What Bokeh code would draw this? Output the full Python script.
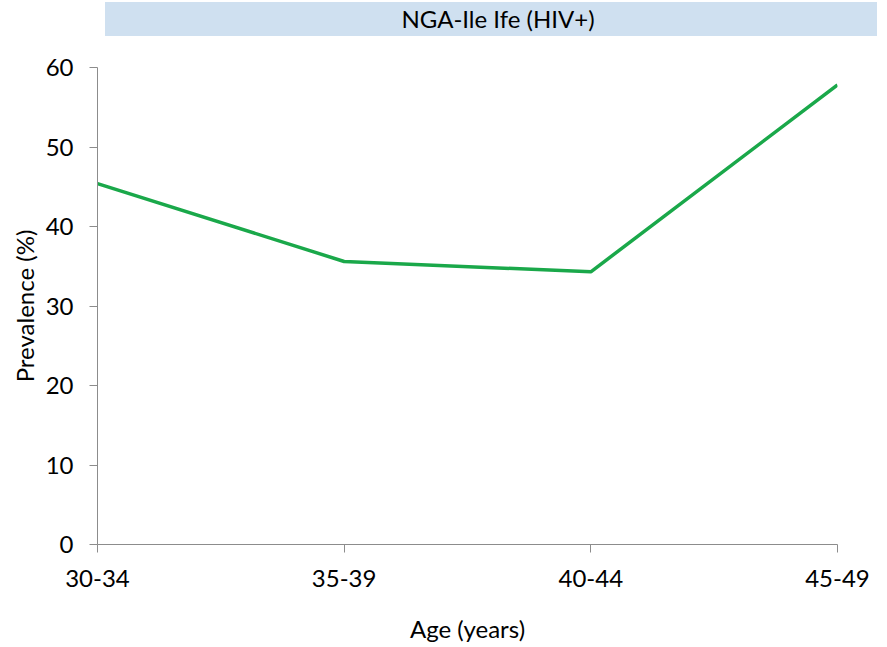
from bokeh.plotting import figure
from bokeh.models import Range1d, FixedTicker, Div
from bokeh.layouts import column
from bokeh.embed import file_html
from bokeh.resources import INLINE

categories = ["30-34", "35-39", "40-44", "45-49"]
prevalence = [45.4, 35.6, 34.3, 57.8]
y_ticks = [0, 10, 20, 30, 40, 50, 60]
title_text = "NGA-Ile Ife (HIV+)"

FONT = "Lato"
x_idx = list(range(len(categories)))

header = Div(text=title_text, width=772, height=34, margin=(2, 0, 0, 105),
             styles={"background-color": "#cfe0f0", "text-align": "center",
                     "font-family": FONT, "font-size": "24px", "line-height": "34px",
                     "color": "#000000", "width": "772px", "height": "34px",
                     "padding-left": "14px", "box-sizing": "border-box"})

p = figure(width=879, height=609, output_backend="svg", toolbar_location=None,
           x_range=Range1d(0, len(categories) - 1), y_range=Range1d(0, 60),
           min_border_left=97, min_border_right=42, min_border_top=31, min_border_bottom=100,
           margin=(0, 0, 0, 0))
p.outline_line_color = None
p.grid.visible = False

p.line(x_idx, prevalence, line_color="#1aa84a", line_width=3.5)

p.xaxis.ticker = FixedTicker(ticks=x_idx)
p.xaxis.major_label_overrides = {i: c for i, c in enumerate(categories)}
p.yaxis.ticker = FixedTicker(ticks=y_ticks)

for ax in (p.xaxis, p.yaxis):
    ax.axis_line_color = "#8c8c8c"
    ax.major_tick_line_color = "#8c8c8c"
    ax.minor_tick_line_color = None
    ax.major_tick_in = 0
    ax.major_tick_out = 8
    ax.major_label_text_font = FONT
    ax.major_label_text_font_size = "24px"
    ax.major_label_text_color = "#000000"
    ax.axis_label_text_font = FONT
    ax.axis_label_text_font_size = "24px"
    ax.axis_label_text_font_style = "normal"
    ax.axis_label_text_color = "#000000"

p.xaxis.axis_label = "Age (years)"
p.yaxis.axis_label = "Prevalence (%)"
p.xaxis.major_label_standoff = 17
p.yaxis.major_label_standoff = 16
p.xaxis.axis_label_standoff = 24
p.yaxis.axis_label_standoff = 4

layout = column(header, p, spacing=0)
open("out.html", "w").write(file_html(layout, INLINE))
